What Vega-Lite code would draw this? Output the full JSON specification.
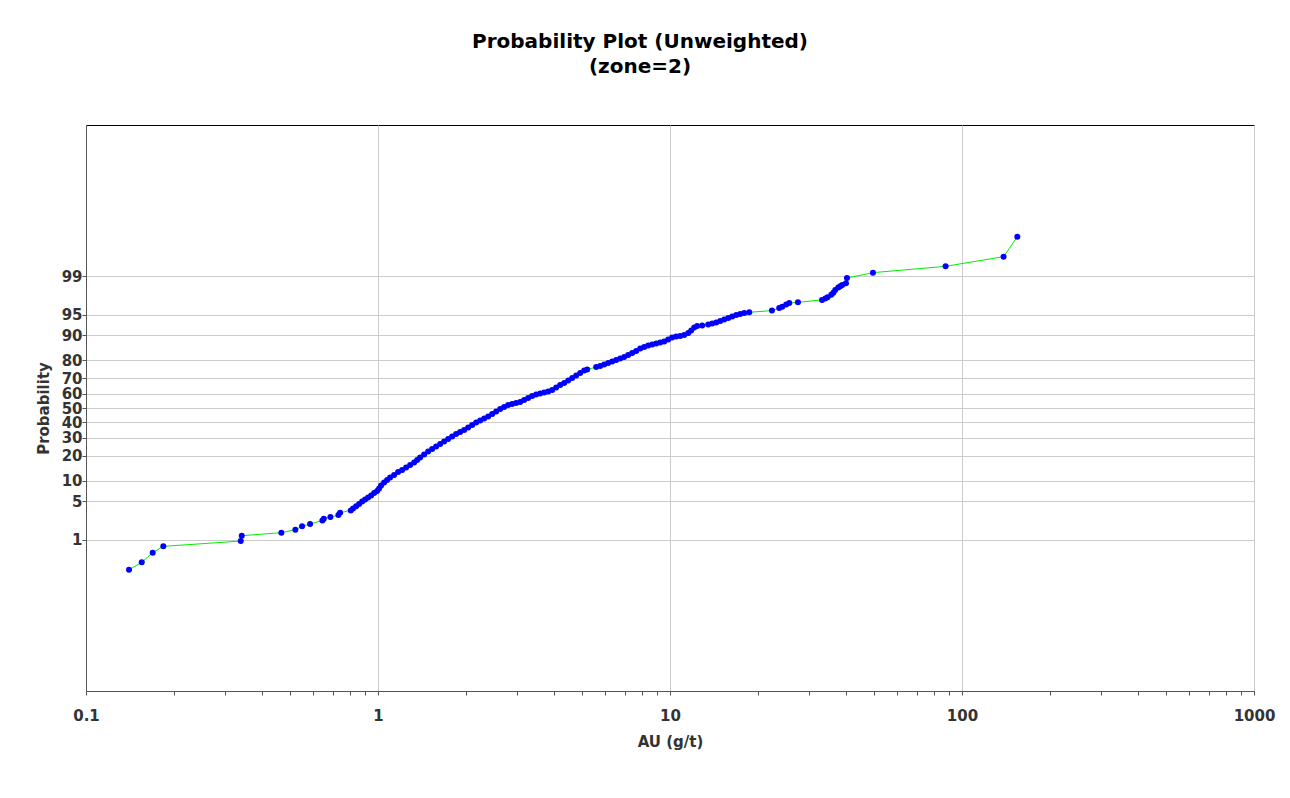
{
  "$schema": "https://vega.github.io/schema/vega-lite/v6.json",
  "autosize": "none",
  "width": 1168,
  "height": 566,
  "padding": {"left": 86, "top": 125, "right": 36, "bottom": 107},
  "background": "white",
  "title": {
    "text": ["Probability Plot (Unweighted)", "(zone=2)"],
    "anchor": "middle",
    "fontSize": 20,
    "fontWeight": "bold",
    "font": "DejaVu Sans",
    "color": "black",
    "lineHeight": 25,
    "offset": 48,
    "dx": -30
  },
  "data": {
    "values": [
      {"au": 0.1404, "z": -2.856}, {"au": 0.1552, "z": -2.727}, {"au": 0.1692, "z": -2.556}, {"au": 0.1840, "z": -2.444},
      {"au": 0.3388, "z": -2.351}, {"au": 0.3415, "z": -2.256}, {"au": 0.4667, "z": -2.203}, {"au": 0.5212, "z": -2.150},
      {"au": 0.5495, "z": -2.091}, {"au": 0.5853, "z": -2.051}, {"au": 0.6450, "z": -1.986}, {"au": 0.6522, "z": -1.956},
      {"au": 0.6870, "z": -1.927}, {"au": 0.7317, "z": -1.892}, {"au": 0.7417, "z": -1.850}, {"au": 0.8067, "z": -1.809},
      {"au": 0.8215, "z": -1.774}, {"au": 0.8414, "z": -1.738}, {"au": 0.8615, "z": -1.694}, {"au": 0.8822, "z": -1.650},
      {"au": 0.9033, "z": -1.615}, {"au": 0.9249, "z": -1.580}, {"au": 0.9471, "z": -1.544}, {"au": 0.9697, "z": -1.500},
      {"au": 0.9929, "z": -1.465}, {"au": 1.0087, "z": -1.421}, {"au": 1.0248, "z": -1.368}, {"au": 1.0493, "z": -1.315},
      {"au": 1.0744, "z": -1.271}, {"au": 1.1001, "z": -1.227}, {"au": 1.1354, "z": -1.182}, {"au": 1.1718, "z": -1.130},
      {"au": 1.2094, "z": -1.094}, {"au": 1.2482, "z": -1.050}, {"au": 1.2883, "z": -1.006}, {"au": 1.3296, "z": -0.962},
      {"au": 1.3614, "z": -0.918}, {"au": 1.3940, "z": -0.874}, {"au": 1.4387, "z": -0.821}, {"au": 1.4848, "z": -0.768},
      {"au": 1.5324, "z": -0.724}, {"au": 1.5816, "z": -0.679}, {"au": 1.6323, "z": -0.635}, {"au": 1.6846, "z": -0.591},
      {"au": 1.7386, "z": -0.547}, {"au": 1.7944, "z": -0.503}, {"au": 1.8520, "z": -0.459}, {"au": 1.9113, "z": -0.424},
      {"au": 1.9726, "z": -0.388}, {"au": 2.0358, "z": -0.344}, {"au": 2.1011, "z": -0.300}, {"au": 2.1684, "z": -0.256},
      {"au": 2.2380, "z": -0.221}, {"au": 2.3097, "z": -0.185}, {"au": 2.3838, "z": -0.150}, {"au": 2.4602, "z": -0.106},
      {"au": 2.5391, "z": -0.062}, {"au": 2.6205, "z": -0.018}, {"au": 2.7040, "z": 0.018}, {"au": 2.7908, "z": 0.053},
      {"au": 2.8803, "z": 0.071}, {"au": 2.9726, "z": 0.088}, {"au": 3.0680, "z": 0.106}, {"au": 3.1660, "z": 0.141},
      {"au": 3.2675, "z": 0.176}, {"au": 3.3723, "z": 0.212}, {"au": 3.4804, "z": 0.238}, {"au": 3.5920, "z": 0.256},
      {"au": 3.7072, "z": 0.274}, {"au": 3.8261, "z": 0.291}, {"au": 3.9488, "z": 0.318}, {"au": 4.0754, "z": 0.362},
      {"au": 4.2061, "z": 0.406}, {"au": 4.3410, "z": 0.441}, {"au": 4.4802, "z": 0.485}, {"au": 4.6239, "z": 0.529},
      {"au": 4.7722, "z": 0.574}, {"au": 4.9253, "z": 0.618}, {"au": 5.0832, "z": 0.662}, {"au": 5.2049, "z": 0.679},
      {"au": 5.5868, "z": 0.724}, {"au": 5.7661, "z": 0.741}, {"au": 5.9509, "z": 0.768}, {"au": 6.1418, "z": 0.794},
      {"au": 6.3388, "z": 0.821}, {"au": 6.5421, "z": 0.847}, {"au": 6.7519, "z": 0.874}, {"au": 6.9685, "z": 0.900},
      {"au": 7.1920, "z": 0.935}, {"au": 7.4226, "z": 0.971}, {"au": 7.6607, "z": 1.006}, {"au": 7.9064, "z": 1.050},
      {"au": 8.1601, "z": 1.077}, {"au": 8.4218, "z": 1.103}, {"au": 8.6918, "z": 1.121}, {"au": 8.9706, "z": 1.138},
      {"au": 9.2584, "z": 1.156}, {"au": 9.5553, "z": 1.174}, {"au": 9.8590, "z": 1.209}, {"au": 10.175, "z": 1.244},
      {"au": 10.501, "z": 1.262}, {"au": 10.838, "z": 1.271}, {"au": 11.186, "z": 1.288}, {"au": 11.545, "z": 1.324},
      {"au": 11.821, "z": 1.368}, {"au": 12.104, "z": 1.421}, {"au": 12.393, "z": 1.447}, {"au": 12.892, "z": 1.456},
      {"au": 13.516, "z": 1.474}, {"au": 13.950, "z": 1.491}, {"au": 14.397, "z": 1.509}, {"au": 14.859, "z": 1.535},
      {"au": 15.335, "z": 1.562}, {"au": 15.827, "z": 1.588}, {"au": 16.334, "z": 1.615}, {"au": 16.858, "z": 1.641},
      {"au": 17.399, "z": 1.659}, {"au": 17.957, "z": 1.677}, {"au": 18.680, "z": 1.691},
      {"au": 22.34, "z": 1.721}, {"au": 23.66, "z": 1.765}, {"au": 24.23, "z": 1.791}, {"au": 25.00, "z": 1.827},
      {"au": 25.61, "z": 1.853}, {"au": 27.43, "z": 1.867}, {"au": 33.15, "z": 1.910}, {"au": 34.02, "z": 1.933},
      {"au": 34.64, "z": 1.956}, {"au": 35.67, "z": 2.003}, {"au": 36.24, "z": 2.038}, {"au": 36.81, "z": 2.083},
      {"au": 37.69, "z": 2.127}, {"au": 38.29, "z": 2.150}, {"au": 38.90, "z": 2.171}, {"au": 40.05, "z": 2.203},
      {"au": 40.37, "z": 2.298}, {"au": 49.55, "z": 2.391}, {"au": 87.85, "z": 2.503}, {"au": 138.8, "z": 2.674},
      {"au": 154.7, "z": 3.027}
    ]
  },
  "encoding": {
    "x": {
      "field": "au",
      "type": "quantitative",
      "title": "AU (g/t)",
      "scale": {"type": "log", "domain": [0.1, 1000], "nice": false, "zero": false},
      "axis": {
        "values": [0.1, 0.2, 0.3, 0.4, 0.5, 0.6, 0.7, 0.8, 0.9, 1, 2, 3, 4, 5, 6, 7, 8, 9, 10, 20, 30, 40, 50, 60, 70, 80, 90, 100, 200, 300, 400, 500, 600, 700, 800, 900, 1000],
        "labelExpr": "indexof([0.1, 1, 10, 100, 1000], datum.value) >= 0 ? format(datum.value, '~g') : ''",
        "gridOpacity": {"condition": {"test": "indexof([0.1, 1, 10, 100, 1000], datum.value) >= 0", "value": 1}, "value": 0},
        "labelOverlap": false,
        "labelFlush": false,
        "labelPadding": 13,
        "titlePadding": 11
      }
    },
    "y": {
      "field": "z",
      "type": "quantitative",
      "title": "Probability",
      "scale": {"type": "linear", "domain": [-5, 5], "nice": false, "zero": false},
      "axis": {
        "values": [-2.3263, -1.6449, -1.2816, -0.8416, -0.5244, -0.2533, 0, 0.2533, 0.5244, 0.8416, 1.2816, 1.6449, 2.3263],
        "labelExpr": "datum.value < -2 ? '1' : datum.value < -1.5 ? '5' : datum.value < -1 ? '10' : datum.value < -0.7 ? '20' : datum.value < -0.4 ? '30' : datum.value < -0.1 ? '40' : datum.value < 0.1 ? '50' : datum.value < 0.4 ? '60' : datum.value < 0.7 ? '70' : datum.value < 1 ? '80' : datum.value < 1.5 ? '90' : datum.value < 2 ? '95' : '99'",
        "labelOverlap": false,
        "labelFlush": false,
        "labelPadding": 0,
        "titlePadding": 10
      }
    }
  },
  "layer": [
    {
      "mark": {"type": "line", "color": "#00ee00", "strokeWidth": 1, "interpolate": "linear"}
    },
    {
      "mark": {"type": "point", "filled": true, "color": "#0000ff", "opacity": 1, "size": 36, "shape": "circle"}
    }
  ],
  "config": {
    "font": "DejaVu Sans",
    "view": {"stroke": "#000000", "strokeWidth": 1},
    "axis": {
      "domainColor": "#555555",
      "tickColor": "#555555",
      "tickSize": 4,
      "gridColor": "#cccccc",
      "gridWidth": 1,
      "labelFont": "DejaVu Sans",
      "labelFontSize": 15,
      "labelFontWeight": "bold",
      "labelColor": "#333333",
      "titleFont": "DejaVu Sans",
      "titleFontSize": 15,
      "titleFontWeight": "bold",
      "titleColor": "#333333"
    }
  }
}
